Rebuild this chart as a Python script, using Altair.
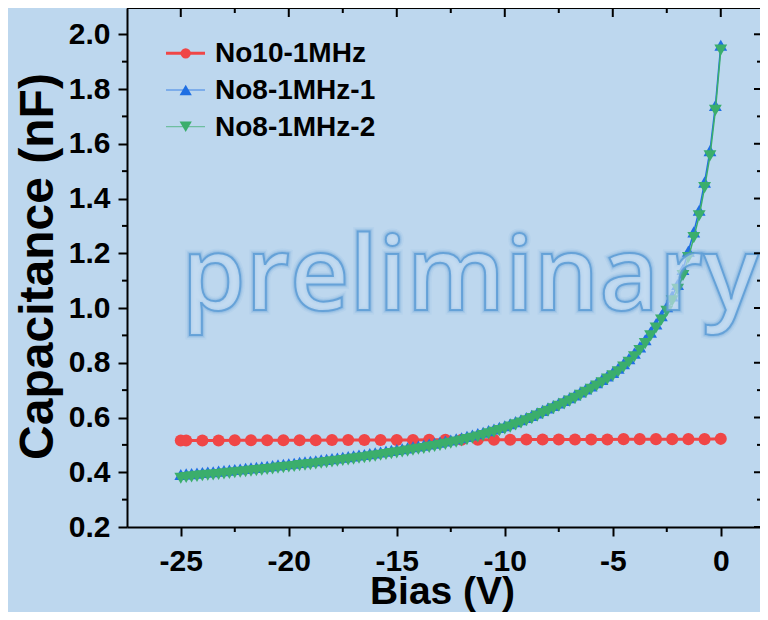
import altair as alt
import pandas as pd

# ---------------- data ----------------
SERIES = ["No10-1MHz", "No8-1MHz-1", "No8-1MHz-2"]
COLORS = ["#F04646", "#1F6FE3", "#3BAE6C"]

BIAS_RED = [-25, -24.75, -24, -23.25, -22.5, -21.75, -21, -20.25, -19.5, -18.75,
            -18, -17.25, -16.5, -15.75, -15, -14.25, -13.5, -12.75, -12, -11.25,
            -10.5, -9.75, -9, -8.25, -7.5, -6.75, -6, -5.25, -4.5, -3.75,
            -3, -2.25, -1.5, -0.75, 0]
CAP_RED = [0.516, 0.516, 0.516, 0.516, 0.517, 0.517, 0.517, 0.517, 0.517, 0.517,
           0.518, 0.518, 0.518, 0.518, 0.518, 0.518, 0.519, 0.519, 0.519, 0.519,
           0.519, 0.519, 0.520, 0.520, 0.520, 0.520, 0.520, 0.520, 0.521, 0.521,
           0.521, 0.521, 0.521, 0.521, 0.522]

BIAS_FINE = [-25, -24.75, -24.5, -24.25, -24, -23.75, -23.5, -23.25, -23, -22.75,
             -22.5, -22.25, -22, -21.75, -21.5, -21.25, -21, -20.75, -20.5, -20.25,
             -20, -19.75, -19.5, -19.25, -19, -18.75, -18.5, -18.25, -18, -17.75,
             -17.5, -17.25, -17, -16.75, -16.5, -16.25, -16, -15.75, -15.5, -15.25,
             -15, -14.75, -14.5, -14.25, -14, -13.75, -13.5, -13.25, -13, -12.75,
             -12.5, -12.25, -12, -11.75, -11.5, -11.25, -11, -10.75, -10.5, -10.25,
             -10, -9.75, -9.5, -9.25, -9, -8.75, -8.5, -8.25, -8, -7.75,
             -7.5, -7.25, -7, -6.75, -6.5, -6.25, -6, -5.75, -5.5, -5.25,
             -5, -4.75, -4.5, -4.25, -4, -3.75, -3.5, -3.25, -3, -2.75,
             -2.5, -2.25, -2, -1.75, -1.5, -1.25, -1, -0.75, -0.5, -0.25, 0]
CAP_BLUE = [0.392, 0.394, 0.395, 0.397, 0.399, 0.401, 0.402, 0.404, 0.406, 0.408,
            0.410, 0.412, 0.414, 0.416, 0.418, 0.420, 0.422, 0.424, 0.427, 0.429,
            0.431, 0.433, 0.436, 0.438, 0.440, 0.442, 0.445, 0.447, 0.450, 0.452,
            0.455, 0.457, 0.460, 0.463, 0.465, 0.468, 0.471, 0.474, 0.477, 0.480,
            0.483, 0.486, 0.489, 0.493, 0.496, 0.499, 0.503, 0.506, 0.510, 0.514,
            0.518, 0.522, 0.526, 0.531, 0.536, 0.541, 0.546, 0.552, 0.558, 0.564,
            0.570, 0.577, 0.585, 0.592, 0.600, 0.608, 0.617, 0.626, 0.635, 0.644,
            0.653, 0.662, 0.672, 0.682, 0.693, 0.704, 0.715, 0.727, 0.739, 0.752,
            0.765, 0.780, 0.797, 0.815, 0.835, 0.858, 0.884, 0.912, 0.942, 0.972,
            1.005, 1.044, 1.086, 1.141, 1.208, 1.278, 1.357, 1.460, 1.575, 1.740,
            1.960]
CAP_GREEN = [0.378, 0.381, 0.383, 0.385, 0.387, 0.389, 0.390, 0.392, 0.394, 0.396,
             0.398, 0.400, 0.402, 0.404, 0.406, 0.408, 0.410, 0.412, 0.415, 0.417,
             0.419, 0.421, 0.424, 0.426, 0.428, 0.430, 0.433, 0.435, 0.438, 0.440,
             0.443, 0.445, 0.448, 0.451, 0.453, 0.456, 0.459, 0.462, 0.465, 0.468,
             0.471, 0.474, 0.477, 0.481, 0.484, 0.487, 0.491, 0.494, 0.498, 0.502,
             0.506, 0.510, 0.514, 0.519, 0.524, 0.529, 0.534, 0.540, 0.546, 0.552,
             0.558, 0.565, 0.573, 0.580, 0.588, 0.596, 0.605, 0.614, 0.623, 0.632,
             0.641, 0.650, 0.660, 0.670, 0.681, 0.692, 0.703, 0.715, 0.727, 0.740,
             0.752, 0.767, 0.784, 0.802, 0.822, 0.845, 0.870, 0.898, 0.927, 0.956,
             0.988, 1.026, 1.068, 1.119, 1.184, 1.257, 1.337, 1.440, 1.556, 1.722,
             1.942]

X_MAJOR = [-25, -20, -15, -10, -5, 0]
X_MINOR = [-22.5, -17.5, -12.5, -7.5, -2.5]
Y_MAJOR = [0.2, 0.4, 0.6, 0.8, 1.0, 1.2, 1.4, 1.6, 1.8, 2.0]
Y_MINOR = [0.3, 0.5, 0.7, 0.9, 1.1, 1.3, 1.5, 1.7, 1.9]
WATERMARK = ["preliminary"]

# ---------------- layout / style ----------------
W, H = 633, 519
BG = "#BDD7EE"
FONT = "Liberation Sans"

red = pd.DataFrame({"v": BIAS_RED, "c": CAP_RED})
blue = pd.DataFrame({"v": BIAS_FINE, "c": CAP_BLUE})
green = pd.DataFrame({"v": BIAS_FINE, "c": CAP_GREEN})

xs = alt.Scale(domain=[-27.49, 1.816], nice=False, zero=False)
ys = alt.Scale(domain=[0.2, 2.096], nice=False, zero=False)

xaxis = alt.Axis(values=X_MAJOR, title="Bias (V)",
                 labelExpr="datum.value < 0 ? '-' + format(-datum.value, 'd') : format(datum.value, 'd')",
                 tickSize=9, labelPadding=10, titleX=315, titleY=76,
                 titleBaseline="alphabetic", titleAlign="center",
                 titleFontSize=39)
yaxis = alt.Axis(values=Y_MAJOR, format=".1f", title="Capacitance (nF)",
                 tickSize=9, labelPadding=8, titleX=-75, titleY=258,
                 titleAngle=270, titleBaseline="alphabetic", titleAlign="center",
                 titleFontSize=48)

X = lambda: alt.X("v:Q", scale=xs, axis=xaxis)
Y = lambda: alt.Y("c:Q", scale=ys, axis=yaxis)

layers = []
# series
layers.append(alt.Chart(red).mark_line(color=COLORS[0], strokeWidth=3).encode(x=X(), y=Y()))
layers.append(alt.Chart(red).mark_point(filled=True, shape="circle", size=145, color=COLORS[0], opacity=1).encode(x=X(), y=Y()))
layers.append(alt.Chart(blue).mark_line(color=COLORS[1], strokeWidth=1.5).encode(x=X(), y=Y()))
layers.append(alt.Chart(blue).mark_point(filled=True, shape="triangle-up", size=165, color=COLORS[1], opacity=1).encode(x=X(), y=Y()))
layers.append(alt.Chart(green).mark_line(color=COLORS[2], strokeWidth=1.5).encode(x=X(), y=Y()))
layers.append(alt.Chart(green).mark_point(filled=True, shape="triangle-down", size=165, color=COLORS[2], opacity=1).encode(x=X(), y=Y()))

# watermark (x/y are in plot coordinates)
wm = pd.DataFrame({"t": WATERMARK})
WX, WY, WFS = 343, 302, 103
for sw, so in [(9, 0.08), (6, 0.14), (4, 0.22)]:
    layers.append(alt.Chart(wm).mark_text(font="Open Sans", fontWeight=600, fontSize=WFS, align="center",
                                          baseline="alphabetic", fillOpacity=0,
                                          stroke="#5B9BD5", strokeWidth=sw, strokeOpacity=so)
                  .encode(text="t:N", x=alt.value(WX), y=alt.value(WY)))
layers.append(alt.Chart(wm).mark_text(font="Open Sans", fontWeight=600, fontSize=WFS, align="center",
                                      baseline="alphabetic", fill="#C6DDF2", fillOpacity=0.65,
                                      stroke="#5B9BD5", strokeWidth=2, strokeOpacity=0.85)
              .encode(text="t:N", x=alt.value(WX), y=alt.value(WY)))

# frame top line + extra ticks (minor outward, mirrored inward)
xmaj = pd.DataFrame({"v": X_MAJOR})
xmin = pd.DataFrame({"v": X_MINOR})
ymaj = pd.DataFrame({"c": Y_MAJOR})
ymin = pd.DataFrame({"c": Y_MINOR})
rule = dict(color="black", strokeWidth=2)
layers.append(alt.Chart(xmaj).mark_rule(**rule).encode(x=alt.value(0), x2=alt.value(W), y=alt.value(0)))
layers.append(alt.Chart(xmin).mark_rule(**rule).encode(x=X(), y=alt.value(H), y2=alt.value(H + 5)))
layers.append(alt.Chart(xmaj).mark_rule(**rule).encode(x=X(), y=alt.value(0), y2=alt.value(9)))
layers.append(alt.Chart(xmin).mark_rule(**rule).encode(x=X(), y=alt.value(0), y2=alt.value(5)))
layers.append(alt.Chart(ymin).mark_rule(**rule).encode(y=Y(), x=alt.value(-5), x2=alt.value(0)))
layers.append(alt.Chart(ymaj).mark_rule(**rule).encode(y=Y(), x=alt.value(W - 6), x2=alt.value(W)))
layers.append(alt.Chart(ymin).mark_rule(**rule).encode(y=Y(), x=alt.value(W - 3), x2=alt.value(W)))

# legend (plot coordinates)
leg = pd.DataFrame({"s": SERIES})
shapes = ["circle", "triangle-up", "triangle-down"]
lsizes = [105, 150, 150]
lwidths = [3, 1.2, 1.2]
lopac = [1, 0.8, 0.6]
for i, name in enumerate(SERIES):
    yy = 45.3 + 36.7 * i
    one = leg[leg["s"] == name]
    layers.append(alt.Chart(one).mark_rule(color=COLORS[i], strokeWidth=lwidths[i], opacity=lopac[i])
                  .encode(x=alt.value(39), x2=alt.value(78), y=alt.value(yy)))
    layers.append(alt.Chart(one).mark_point(filled=True, shape=shapes[i], size=lsizes[i], color=COLORS[i], opacity=1)
                  .encode(x=alt.value(58.7), y=alt.value(yy)))
    layers.append(alt.Chart(one).mark_text(font=FONT, fontWeight="bold", fontSize=28, align="left",
                                           baseline="middle", color="black")
                  .encode(text="s:N", x=alt.value(88), y=alt.value(yy + 1)))

chart = alt.layer(*layers).properties(
    width=W, height=H,
    autosize=alt.AutoSizeParams(type="none"),
    padding={"left": 119, "top": 0, "right": 0, "bottom": 85},
).configure(background=BG).configure_view(
    strokeWidth=0
).configure_axis(
    labelFont=FONT, labelFontWeight="bold", labelFontSize=30, labelColor="black",
    titleFont=FONT, titleFontWeight="bold", titleColor="black",
    tickColor="black", tickWidth=2, domainColor="black", domainWidth=2, grid=False,
)

chart.save("out.html", embed_options={"renderer": "svg", "actions": False})
